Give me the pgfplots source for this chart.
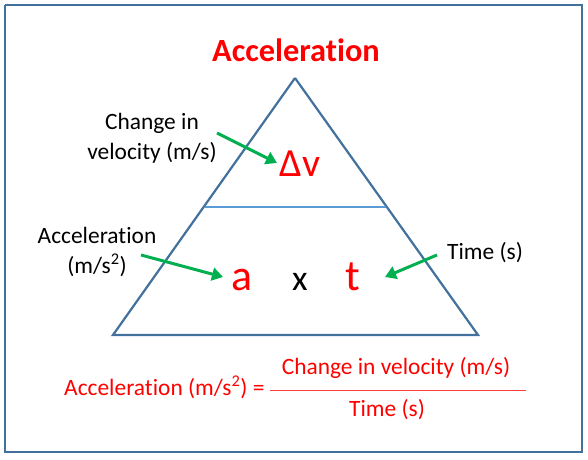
\documentclass[border=0pt]{standalone}
\usepackage{pgfplots}
\pgfplotsset{compat=1.18}
\usetikzlibrary{arrows.meta}
\usepackage{fontspec}
\setmainfont[Ligatures={NoCommon,NoDiscretionary,NoContextual}]{Carlito}
\definecolor{triblue}{HTML}{41719C}
\definecolor{lineblue}{HTML}{5B9BD5}
\definecolor{arrgreen}{HTML}{00B050}
\definecolor{pptred}{HTML}{FF0000}
\begin{document}
\begin{tikzpicture}
\begin{axis}[
  width=588bp, height=460bp, scale only axis,
  xmin=0, xmax=588, ymin=0, ymax=460, y dir=reverse,
  hide axis, clip=false,
]
\path[fill=white] (axis cs:0,0) rectangle (axis cs:588,460);
% frame
\addplot[triblue, line width=1.1pt] coordinates {(5,5) (582,5) (582,452) (5,452) (5,5)};
% triangle
\addplot[triblue, line width=2.2pt, line join=miter] coordinates {(295,78) (478,335) (113,335) (295,78)};
\addplot[lineblue, line width=2pt] coordinates {(205,207) (386,207)};
% arrows
\addplot[arrgreen, line width=3pt, -{Triangle[length=11bp,width=13bp]}] coordinates {(217,133) (277,163)};
\addplot[arrgreen, line width=3pt, -{Triangle[length=11bp,width=13bp]}] coordinates {(141,255) (223,277)};
\addplot[arrgreen, line width=3pt, -{Triangle[length=11bp,width=13bp]}] coordinates {(437,255) (385,277)};
% fraction bar
\addplot[pptred!75, line width=0.8pt] coordinates {(270,390) (526,390)};
% texts
\node[text=pptred, font=\fontsize{32.5}{36}\selectfont\bfseries] at (axis cs:296,50) {Acceleration};
\node[text=pptred, font=\fontsize{40}{46}\selectfont] at (axis cs:300,164) {Δv};
\node[text=pptred, font=\fontsize{44}{50}\selectfont, anchor=base] at (axis cs:242,291) {a};
\node[text=black, font=\fontsize{36}{40}\selectfont, anchor=base] at (axis cs:300,291) {x};
\node[text=pptred, font=\fontsize{44}{50}\selectfont, anchor=base] at (axis cs:353,291) {t};
\node[align=center, font=\fontsize{23.5}{30}\selectfont] at (axis cs:152,138) {Change in\\velocity (m/s)};
\node[align=center, font=\fontsize{23.5}{31}\selectfont] at (axis cs:97,252) {Acceleration\\(m/s\textsuperscript{2})};
\node[font=\fontsize{23.5}{28}\selectfont] at (axis cs:485,253) {Time (s)};
\node[text=pptred, font=\fontsize{23.5}{28}\selectfont, anchor=east] at (axis cs:268,387) {Acceleration (m/s\textsuperscript{2}) =};
\node[text=pptred, font=\fontsize{23.5}{28}\selectfont] at (axis cs:396,368) {Change in velocity (m/s)};
\node[text=pptred, font=\fontsize{23.5}{28}\selectfont] at (axis cs:387,410) {Time (s)};
\end{axis}
\end{tikzpicture}
\end{document}
